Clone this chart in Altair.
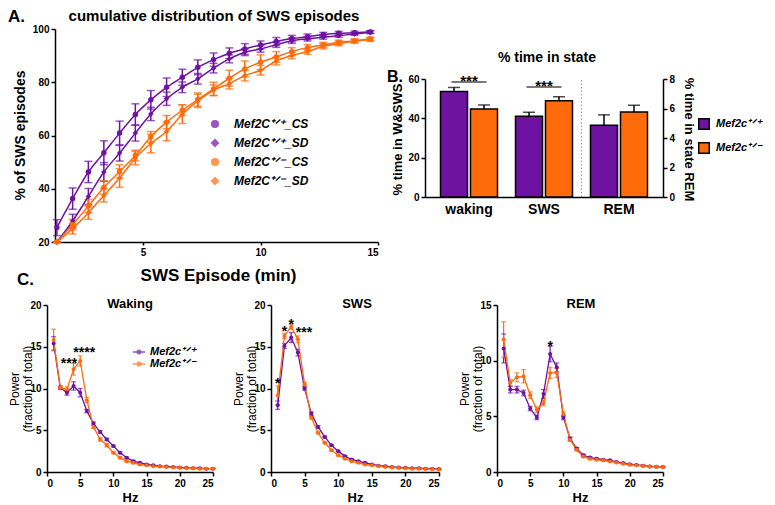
import altair as alt
import pandas as pd

FONT = "Liberation Sans"
PURPLE = "#6e12a2"
ORANGE = "#ff6a0a"

WT = "\u207a\u141f\u207a"
HET = "\u207a\u141f\u207b"

# ---------------- Panel A : cumulative distribution ----------------
a_minutes = [1.33, 2.0, 2.67, 3.33, 4.0, 4.67, 5.33, 6.0, 6.67, 7.33, 8.0,
             8.67, 9.33, 10.0, 10.67, 11.33, 12.0, 12.67, 13.33, 14.0, 14.67]
a_series = ["Mef2C" + WT + "_CS", "Mef2C" + WT + "_SD",
            "Mef2C" + HET + "_CS", "Mef2C" + HET + "_SD"]
a_wt_cs = [25.4, 36.3, 46.3, 53.5, 60.9, 67.9, 73.4, 78.1, 81.9, 85.6, 88.5,
           90.9, 92.5, 94.0, 95.3, 96.4, 97.1, 97.9, 98.4, 98.6, 98.9]
a_wt_cs_err = [3.0, 4.0, 4.0, 4.5, 4.5, 4.0, 3.5, 3.5, 3.0, 2.8, 2.5,
               2.0, 2.0, 1.5, 1.5, 1.2, 1.0, 0.8, 0.7, 0.6, 0.5]
a_wt_sd = [18.0, 27.9, 37.1, 46.3, 53.4, 60.9, 68.1, 73.8, 78.1, 81.3, 85.3,
           88.8, 91.3, 92.5, 94.1, 95.6, 96.3, 96.9, 97.5, 98.1, 98.8]
a_wt_sd_err = [2.0, 2.5, 3.0, 3.5, 3.0, 3.0, 2.5, 2.5, 2.0, 2.0, 1.8,
               1.5, 1.3, 1.2, 1.0, 1.0, 0.8, 0.7, 0.6, 0.5, 0.5]
a_het_cs = [18.0, 26.5, 33.5, 40.5, 46.5, 52.5, 59.5, 65.0, 69.5, 73.5, 77.5,
            81.5, 85.0, 87.5, 89.5, 91.5, 93.0, 94.0, 95.0, 95.5, 96.3]
a_het_cs_err = [1.5, 2.0, 2.5, 2.5, 2.5, 2.0, 2.0, 2.5, 2.0, 2.5, 2.5,
                3.0, 3.0, 2.8, 2.0, 1.5, 1.2, 1.0, 0.8, 0.7, 0.6]
a_het_sd = [17.0, 25.0, 31.0, 37.5, 44.0, 51.5, 57.0, 61.5, 68.0, 73.0, 77.0,
            79.5, 82.5, 84.5, 88.0, 90.0, 91.5, 93.5, 94.5, 95.5, 96.0]
a_het_sd_err = [1.5, 2.0, 2.5, 2.5, 3.5, 2.5, 3.5, 3.5, 3.5, 2.5, 2.0,
                2.0, 2.0, 1.8, 1.5, 1.2, 1.0, 1.0, 0.8, 0.7, 0.6]

# ---------------- Panel B : % time in state ----------------
b_states = ["waking", "SWS", "REM"]
b_genos = ["Mef2c" + WT, "Mef2c" + HET]
b_wt = [53.6, 41.1, 4.87]
b_wt_err = [2.1, 2.0, 0.7]
b_het = [44.8, 49.0, 5.77]
b_het_err = [2.0, 2.0, 0.45]
b_sig_states = ["waking", "SWS"]
b_sig_line = [58.5, 55.9]
b_sig_text = ["***", "***"]

# ---------------- Panel C : power spectra ----------------
c_hz = [1, 2, 3, 4, 5, 6, 7, 8, 9, 10, 11, 12, 13, 14, 15, 16, 17, 18, 19,
        20, 21, 22, 23, 24, 25]
c_genos = ["Mef2c" + WT, "Mef2c" + HET]

wake_wt = [15.4, 10.1, 9.5, 10.3, 9.5, 7.3, 5.8, 4.8, 3.9, 3.1, 2.3, 1.7, 1.3,
           1.1, 0.9, 0.8, 0.7, 0.65, 0.6, 0.55, 0.5, 0.45, 0.45, 0.4, 0.4]
wake_wt_err = [0.8, 0.2, 0.3, 0.5, 0.5, 0.2, 0.2, 0.15, 0.15, 0.1, 0.1, 0.1, 0.1,
               0.08, 0.08, 0.05, 0.05, 0.05, 0.05, 0.05, 0.05, 0.05, 0.05, 0.05, 0.05]
wake_het = [15.8, 10.1, 9.9, 12.3, 13.3, 8.6, 5.4, 3.9, 3.2, 2.3, 1.7, 1.3, 1.1,
            0.9, 0.8, 0.7, 0.65, 0.6, 0.55, 0.5, 0.45, 0.45, 0.4, 0.4, 0.4]
wake_het_err = [1.3, 0.2, 0.3, 0.7, 0.6, 0.3, 0.2, 0.2, 0.2, 0.1, 0.1, 0.1, 0.1,
                0.08, 0.05, 0.05, 0.05, 0.05, 0.05, 0.05, 0.05, 0.05, 0.05, 0.05, 0.05]
wake_star_x = [3.3, 5.6]
wake_star_y = [13.4, 14.7]
wake_star_t = ["***", "****"]

sws_wt = [8.0, 15.1, 16.1, 14.3, 10.0, 7.0, 5.4, 4.2, 3.2, 2.5, 1.9, 1.5, 1.3,
          1.1, 0.9, 0.75, 0.7, 0.6, 0.55, 0.5, 0.45, 0.45, 0.4, 0.4, 0.35]
sws_wt_err = [0.5, 0.3, 0.6, 0.4, 0.2, 0.2, 0.15, 0.1, 0.1, 0.1, 0.08, 0.08, 0.05,
              0.05, 0.05, 0.05, 0.05, 0.05, 0.05, 0.05, 0.05, 0.05, 0.05, 0.05, 0.05]
sws_het = [9.2, 16.3, 17.4, 15.9, 10.5, 6.5, 4.7, 3.5, 2.6, 2.0, 1.6, 1.3, 1.1,
           0.9, 0.8, 0.7, 0.6, 0.55, 0.5, 0.45, 0.4, 0.4, 0.35, 0.35, 0.3]
sws_het_err = [1.1, 0.3, 0.3, 0.4, 0.2, 0.15, 0.1, 0.1, 0.1, 0.08, 0.08, 0.05, 0.05,
               0.05, 0.05, 0.05, 0.05, 0.05, 0.05, 0.05, 0.05, 0.05, 0.05, 0.05, 0.05]
sws_star_x = [1.0, 2.0, 3.0, 4.9]
sws_star_y = [11.0, 17.2, 18.1, 17.1]
sws_star_t = ["*", "*", "*", "***"]

rem_wt = [11.1, 7.4, 7.4, 7.1, 5.7, 4.9, 7.0, 10.6, 9.4, 4.9, 3.0, 2.1, 1.5,
          1.3, 1.2, 1.1, 1.05, 0.9, 0.8, 0.7, 0.63, 0.57, 0.5, 0.48, 0.45]
rem_wt_err = [1.3, 0.3, 0.3, 0.25, 0.2, 0.2, 0.4, 0.7, 0.4, 0.2, 0.15, 0.1, 0.1,
              0.08, 0.05, 0.05, 0.05, 0.05, 0.05, 0.05, 0.05, 0.05, 0.05, 0.05, 0.05]
rem_het = [11.9, 8.0, 8.5, 8.6, 6.9, 5.6, 6.2, 8.9, 8.9, 5.2, 2.9, 2.0, 1.4,
           1.2, 1.1, 1.05, 0.95, 0.85, 0.75, 0.65, 0.6, 0.55, 0.5, 0.48, 0.45]
rem_het_err = [1.6, 0.3, 0.4, 0.6, 0.3, 0.25, 0.25, 0.5, 0.4, 0.2, 0.15, 0.1, 0.1,
               0.08, 0.05, 0.05, 0.05, 0.05, 0.05, 0.05, 0.05, 0.05, 0.05, 0.05, 0.05]
rem_star_x = [8.0]
rem_star_y = [11.6]
rem_star_t = ["*"]


def label_layer(text, x, y, size, align="center", weight="bold"):
    return alt.Chart(pd.DataFrame({"t": [text]})).mark_text(
        align=align, baseline="middle", fontSize=size, fontWeight=weight, color="black"
    ).encode(x=alt.value(x), y=alt.value(y), text="t:N")


# ======== build A ========
rowsA = []
for name, vals, errs in zip(a_series, [a_wt_cs, a_wt_sd, a_het_cs, a_het_sd],
                            [a_wt_cs_err, a_wt_sd_err, a_het_cs_err, a_het_sd_err]):
    for m, v, e in zip(a_minutes, vals, errs):
        rowsA.append({"series": name, "min": m, "pct": v, "lo": v - e, "hi": v + e})
dfA = pd.DataFrame(rowsA)


def a_x():
    return alt.X("min:Q", scale=alt.Scale(domain=[1.25, 15], range=[0, 323], nice=False, zero=False),
                 axis=alt.Axis(values=[5, 10, 15], title="SWS Episode (min)", titleFontSize=17,
                               titleX=163, titleY=33, titleBaseline="middle", labelFontSize=10,
                               tickSize=3))


def a_y(field):
    return alt.Y(field + ":Q", scale=alt.Scale(domain=[20, 100], nice=False, zero=False, clamp=True),
                 axis=alt.Axis(values=[20, 40, 60, 80, 100], title="% of SWS episodes",
                               titleFontSize=14, titleX=-35, titleY=106, titleBaseline="middle",
                               labelFontSize=10))


legA = alt.Legend(orient="none", legendX=154, legendY=89, padding=0, title=None, labelFontSize=12,
                  labelFontWeight="bold", labelFontStyle="italic", symbolSize=45,
                  rowPadding=5, labelOffset=13, symbolStrokeWidth=1.5)
colA = alt.Color("series:N", scale=alt.Scale(domain=a_series, range=[PURPLE, PURPLE, ORANGE, ORANGE]),
                 legend=legA)
shpA = alt.Shape("series:N", scale=alt.Scale(domain=a_series, range=["circle", "diamond", "circle", "diamond"]),
                 legend=legA)

baseA = alt.Chart(dfA)
a_err = baseA.mark_rule(strokeWidth=1.5).encode(x=a_x(), y=a_y("lo"), y2="hi:Q", color=colA)
a_cap_lo = baseA.mark_tick(orient="horizontal", size=8, thickness=1.5).encode(
    x=a_x(), y=a_y("lo"), color=colA)
a_cap_hi = baseA.mark_tick(orient="horizontal", size=8, thickness=1.5).encode(
    x=a_x(), y=a_y("hi"), color=colA)
a_lines = baseA.mark_line(interpolate="monotone", strokeWidth=1.5).encode(
    x=a_x(), y=a_y("pct"), color=colA, detail="series:N")
a_pts = baseA.mark_point(filled=True, opacity=1, size=30).encode(
    x=a_x(), y=a_y("pct"), color=colA, shape=shpA)

chartA = alt.layer(
    a_err, a_cap_lo, a_cap_hi, a_lines, a_pts,
    label_layer("A.", -47, -12, 17, align="left"),
    label_layer("cumulative distribution of SWS episodes", 159, -13, 15),
).properties(width=158, height=213)

# ======== build B ========
rowsB = []
for i, s in enumerate(b_states):
    rowsB.append({"state": s, "geno": b_genos[0], "v": b_wt[i], "top": b_wt[i] + b_wt_err[i]})
    rowsB.append({"state": s, "geno": b_genos[1], "v": b_het[i], "top": b_het[i] + b_het_err[i]})
dfB = pd.DataFrame(rowsB)
dfB_ws = dfB[dfB["state"] != "REM"]
dfB_rem = dfB[dfB["state"] == "REM"]
dfSig = pd.DataFrame({"state": b_sig_states, "y": b_sig_line, "t": b_sig_text})
dfSep = pd.DataFrame({"state": ["REM"]})


def b_x(band_pos=None):
    kw = {}
    if band_pos is not None:
        kw["bandPosition"] = band_pos
    return alt.X("state:N", sort=b_states,
                 scale=alt.Scale(domain=b_states, range=[-72, 166], paddingInner=0, paddingOuter=0.0867),
                 axis=alt.Axis(title=None, ticks=False, labelAngle=0, labelFontSize=14, labelPadding=5),
                 **kw)


b_xo = alt.XOffset("geno:N", scale=alt.Scale(domain=b_genos, paddingInner=0.1, paddingOuter=0.3))


def b_yl(field):
    return alt.Y(field + ":Q", scale=alt.Scale(domain=[0, 60], range=[168, 50], nice=False),
                 axis=alt.Axis(values=[0, 20, 40, 60], offset=72, title="% time in W&SWS",
                               titleFontSize=13, titleX=-28, titleY=110, titleBaseline="middle",
                               labelFontSize=10))


def b_yr(field):
    return alt.Y(field + ":Q", scale=alt.Scale(domain=[0, 8], range=[168, 50], nice=False),
                 axis=alt.Axis(orient="right", values=[0, 2, 4, 6, 8], title="% time in state REM",
                               titleFontSize=13, titleAngle=90, titleX=25, titleY=110,
                               titleBaseline="middle", labelFontSize=10))


legB = alt.Legend(orient="none", legendX=201, legendY=89, padding=0, title=None, symbolType="square",
                  symbolSize=110, symbolStrokeColor="black", symbolStrokeWidth=1.5,
                  labelFontSize=11, labelFontWeight="bold", labelFontStyle="italic",
                  rowPadding=6, labelOffset=6)
colB = alt.Color("geno:N", scale=alt.Scale(domain=b_genos, range=[PURPLE, ORANGE]), legend=legB)

left = alt.layer(
    alt.Chart(dfSep).mark_rule(strokeDash=[1.5, 2], color="#999999", strokeWidth=1).encode(
        x=b_x(0), y=alt.datum(0), y2=alt.datum(60)),
    alt.Chart(dfB_ws).mark_bar(stroke="black", strokeWidth=1.5).encode(
        x=b_x(), xOffset=b_xo, y=b_yl("v"), color=colB),
    alt.Chart(dfB_ws).mark_rule(color="black", strokeWidth=1.5).encode(
        x=b_x(), xOffset=b_xo, y=b_yl("v"), y2="top:Q"),
    alt.Chart(dfB_ws).mark_tick(color="black", thickness=1.5, size=12).encode(
        x=b_x(), xOffset=b_xo, y=b_yl("top")),
    alt.Chart(dfSig).mark_tick(color="black", thickness=1.5, size=35).encode(
        x=b_x(), y=b_yl("y")),
    alt.Chart(dfSig).mark_text(fontSize=15, fontWeight="bold", baseline="middle", dy=-1,
                               color="black").encode(x=b_x(), y=b_yl("y"), text="t:N"),
    label_layer("B.", -110, 48, 16, align="left"),
    label_layer("% time in state", 50, 29, 14),
)
right = alt.layer(
    alt.Chart(dfB_rem).mark_bar(stroke="black", strokeWidth=1.5).encode(
        x=b_x(), xOffset=b_xo, y=b_yr("v"), color=colB),
    alt.Chart(dfB_rem).mark_rule(color="black", strokeWidth=1.5).encode(
        x=b_x(), xOffset=b_xo, y=b_yr("v"), y2="top:Q"),
    alt.Chart(dfB_rem).mark_tick(color="black", thickness=1.5, size=12).encode(
        x=b_x(), xOffset=b_xo, y=b_yr("top")),
)
chartB = alt.layer(left, right).resolve_scale(y="independent").properties(width=166, height=168)


# ======== build C ========
def power_panel(title, title_x, wt, wt_err, het, het_err, ymax, yvals,
                sx, sy, st, width, xrange, yoffset, show_legend, letter=False):
    rows = []
    for g, vals, errs in ((c_genos[0], wt, wt_err), (c_genos[1], het, het_err)):
        for h, v, e in zip(c_hz, vals, errs):
            rows.append({"g": g, "hz": h, "p": v, "lo": v - e, "hi": v + e})
    df = pd.DataFrame(rows)
    dstar = pd.DataFrame({"hz": sx, "p": sy, "t": st})

    def X():
        return alt.X("hz:Q", scale=alt.Scale(domain=[0, 25], range=xrange, nice=False, zero=False),
                     axis=alt.Axis(values=[0, 5, 10, 15, 20, 25], title="Hz", titleFontSize=13,
                                   titleY=25, titleBaseline="middle", labelFontSize=10))

    def Y(f):
        return alt.Y(f + ":Q", scale=alt.Scale(domain=[0, ymax], nice=False),
                     axis=alt.Axis(values=yvals, offset=yoffset, title=["Power", "(fraction of total)"],
                                   titleFontWeight="normal", titleFontSize=12, titleLineHeight=13,
                                   titleX=-33, titleY=83.5, titleBaseline="middle", labelFontSize=10))

    if show_legend:
        leg = alt.Legend(orient="none", legendX=77, legendY=40, padding=0, title=None,
                         symbolType="M-1,0L1,0M-0.3,0A0.3,0.3,0,1,1,0.3,0A0.3,0.3,0,1,1,-0.3,0",
                         symbolSize=150, symbolStrokeWidth=1.5, labelFontSize=11,
                         labelFontWeight="bold", labelFontStyle="italic", rowPadding=0,
                         labelOffset=4)
    else:
        leg = None
    col = alt.Color("g:N", scale=alt.Scale(domain=c_genos, range=[PURPLE, ORANGE]), legend=leg)
    base = alt.Chart(df)
    layers = [
        base.mark_rule(strokeWidth=1.2).encode(x=X(), y=Y("lo"), y2="hi:Q", color=col),
        base.mark_tick(orient="horizontal", size=5, thickness=1.2).encode(x=X(), y=Y("lo"), color=col),
        base.mark_tick(orient="horizontal", size=5, thickness=1.2).encode(x=X(), y=Y("hi"), color=col),
        base.mark_line(strokeWidth=1.3).encode(x=X(), y=Y("p"), color=col, detail="g:N"),
        base.mark_point(filled=True, opacity=1, size=16).encode(x=X(), y=Y("p"), color=col),
        alt.Chart(dstar).mark_text(fontSize=14, fontWeight="bold", baseline="middle", dy=4,
                                   color="black").encode(x=X(), y=Y("p"), text="t:N"),
        label_layer(title, title_x, -1, 13),
    ]
    if letter:
        layers.append(label_layer("C.", -38, -25, 17, align="left"))
    return alt.layer(*layers).properties(width=width, height=167)


c1 = power_panel("Waking", 75, wake_wt, wake_wt_err, wake_het, wake_het_err, 20, [0, 5, 10, 15, 20],
                 wake_star_x, wake_star_y, wake_star_t, 158, [-8, 158], 8, True, letter=True)
c2 = power_panel("SWS", 86, sws_wt, sws_wt_err, sws_het, sws_het_err, 20, [0, 5, 10, 15, 20],
                 sws_star_x, sws_star_y, sws_star_t, 168, [0, 168], 0, False)
c3 = power_panel("REM", 84, rem_wt, rem_wt_err, rem_het, rem_het_err, 15, [0, 5, 10, 15],
                 rem_star_x, rem_star_y, rem_star_t, 166, [0, 166], 0, False)

spacer = alt.Chart(pd.DataFrame({"a": [0]})).mark_point(opacity=0).encode(
    x=alt.value(0), y=alt.value(0)).properties(width=1, height=1)

chart = alt.concat(chartA, spacer, chartB, c1, c2, c3, columns=3).properties(
    bounds="flush",
    spacing={"row": 63, "column": 58},
    align="each",
    padding=0,
).resolve_scale(color="independent", shape="independent").configure(
    font=FONT
).configure_view(stroke=None).configure_axis(
    grid=False, domainColor="black", domainWidth=1.5, tickColor="black", tickWidth=1.5,
    tickSize=4, labelColor="black", labelFont=FONT, labelFontWeight="bold",
    titleFont=FONT, titleColor="black", titleFontWeight="bold"
).configure_legend(labelFont=FONT, labelColor="black")

chart.save("out.html", embed_options={"renderer": "svg", "actions": False})
